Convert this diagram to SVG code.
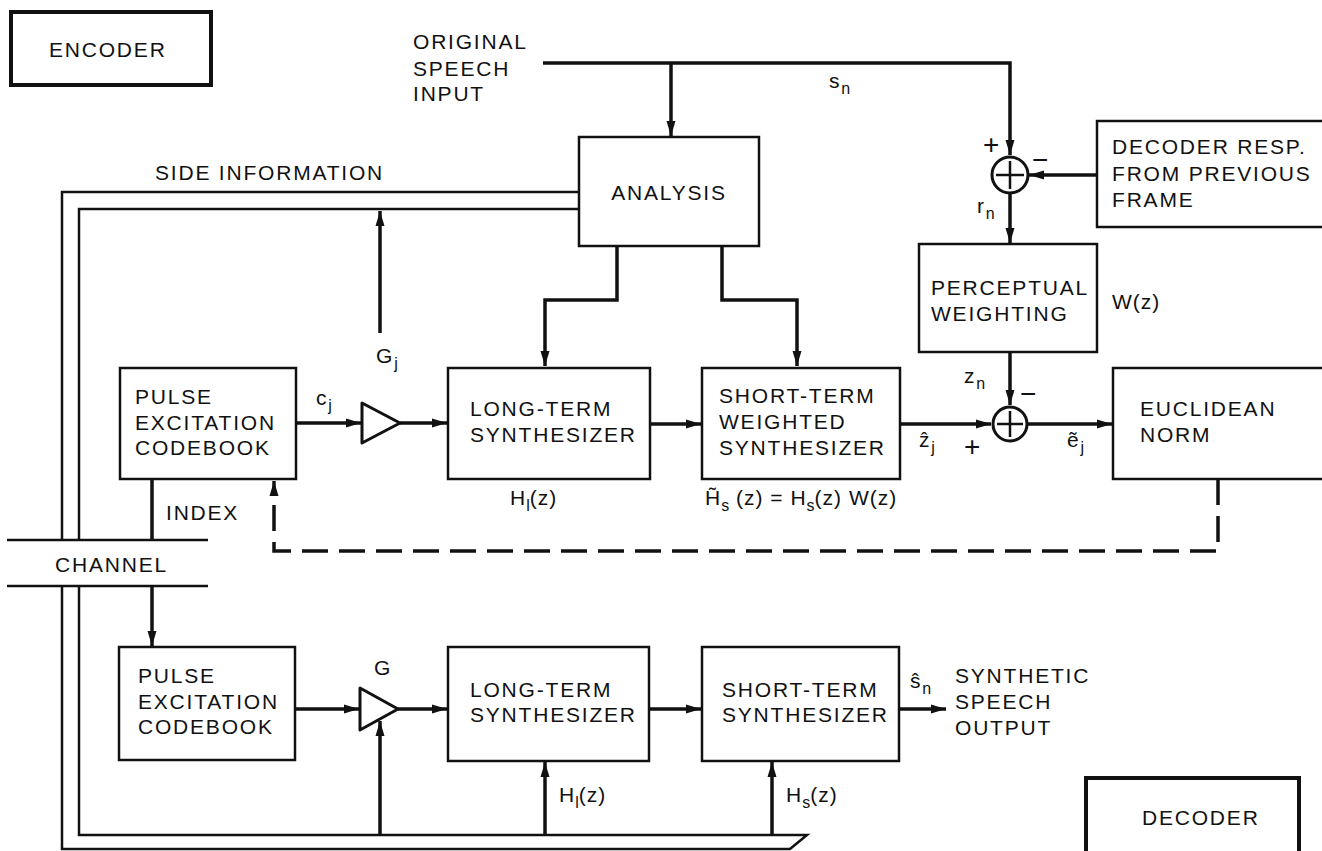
<svg xmlns="http://www.w3.org/2000/svg" width="1322" height="851" viewBox="0 0 1322 851">
<defs>
<marker id="ah" markerUnits="userSpaceOnUse" markerWidth="16" markerHeight="10" refX="15" refY="5" orient="auto">
<path d="M0,0.5 L15,5 L0,9.5 z" fill="#111"/>
</marker>
<style>
text{font-family:"Liberation Sans",Arial,sans-serif;font-size:21px;letter-spacing:1.8px;fill:#111}
.sub{font-size:16px;letter-spacing:0}
.sign{font-size:28px;letter-spacing:0}
.box{fill:#fff;stroke:#111;stroke-width:2.5}
.tbox{fill:#fff;stroke:#111;stroke-width:4}
.w{fill:none;stroke:#111;stroke-width:3.5}
.t{fill:none;stroke:#111;stroke-width:2.5}
.d{fill:none;stroke:#111;stroke-width:3.5;stroke-dasharray:26 11}
.amp{fill:#fff;stroke:#111;stroke-width:3;stroke-linejoin:round}
.sum{fill:#fff;stroke:#111;stroke-width:3}
</style>
</defs>
<rect width="1322" height="851" fill="#fff"/>

<g id="connectors">
<!-- speech input -->
<path class="w" d="M543,63 H1010 V155" marker-end="url(#ah)"/>
<path class="w" d="M671,63 V136" marker-end="url(#ah)"/>
<!-- analysis to synthesizers -->
<path class="w" d="M617,246 V300 H545 V366" marker-end="url(#ah)"/>
<path class="w" d="M722,246 V300 H797 V366" marker-end="url(#ah)"/>
<!-- side information bus -->
<path class="t" d="M579,192 H62 V540 M62,586 V849 H790 L807,835 H79 V586 M79,540 V209 H579"/>
<path class="w" d="M380,333 V211" marker-end="url(#ah)"/>
<!-- channel -->
<path class="t" d="M7,540 H208 M7,586 H208"/>
<path class="w" d="M152,479 V540"/>
<path class="w" d="M152,586 V646" marker-end="url(#ah)"/>
<!-- encoder chain -->
<path class="w" d="M296,423 H361" marker-end="url(#ah)"/>
<path class="w" d="M400,423 H447" marker-end="url(#ah)"/>
<path class="w" d="M650,424 H701" marker-end="url(#ah)"/>
<path class="w" d="M900,424 H991" marker-end="url(#ah)"/>
<path class="w" d="M1028,424 H1112" marker-end="url(#ah)"/>
<!-- decoder resp -> sum1, sum1 -> perceptual -->
<path class="w" d="M1097,175 H1029" marker-end="url(#ah)"/>
<path class="w" d="M1010,194 V243" marker-end="url(#ah)"/>
<path class="w" d="M1010,352 V405" marker-end="url(#ah)"/>
<!-- error feedback -->
<path class="d" d="M1218,479 V551 H274 V481" marker-end="url(#ah)"/>
<!-- decoder chain -->
<path class="w" d="M295,709 H359" marker-end="url(#ah)"/>
<path class="w" d="M398,709 H447" marker-end="url(#ah)"/>
<path class="w" d="M649,709 H701" marker-end="url(#ah)"/>
<path class="w" d="M899,709 H946" marker-end="url(#ah)"/>
<path class="w" d="M380,835 V721" marker-end="url(#ah)"/>
<path class="w" d="M545,835 V762" marker-end="url(#ah)"/>
<path class="w" d="M772,835 V762" marker-end="url(#ah)"/>
</g>

<g id="encoder-label">
<rect class="tbox" x="11" y="12" width="200" height="73"/>
<text x="49" y="57">ENCODER</text>
</g>

<g id="speech-input">
<text x="413" y="49">ORIGINAL</text>
<text x="413" y="76">SPEECH</text>
<text x="413" y="101">INPUT</text>
<text x="829" y="88">s<tspan class="sub" dy="6">n</tspan></text>
</g>

<g id="side-info-label">
<text x="155" y="180">SIDE INFORMATION</text>
<text x="376" y="363">G<tspan class="sub" dy="6">j</tspan></text>
</g>

<g id="analysis">
<rect class="box" x="579" y="137" width="180" height="109"/>
<text x="669" y="200" text-anchor="middle">ANALYSIS</text>
</g>

<g id="sum1">
<circle class="sum" cx="1010" cy="175" r="18"/>
<path class="t" d="M996,175 H1024 M1010,161 V189"/>
<text class="sign" x="983" y="154">+</text>
<text class="sign" x="1032" y="169">−</text>
<text x="977" y="213">r<tspan class="sub" dy="6">n</tspan></text>
</g>

<g id="decoder-resp">
<rect class="box" x="1097" y="121" width="230" height="106"/>
<text x="1112" y="154">DECODER RESP.</text>
<text x="1112" y="181">FROM PREVIOUS</text>
<text x="1112" y="207">FRAME</text>
</g>

<g id="perceptual">
<rect class="box" x="919" y="244" width="178" height="108"/>
<text x="931" y="295">PERCEPTUAL</text>
<text x="931" y="321">WEIGHTING</text>
<text x="1112" y="309" style="letter-spacing:1px">W(z)</text>
</g>

<g id="enc-codebook">
<rect class="box" x="120" y="368" width="176" height="111"/>
<text x="135" y="404">PULSE</text>
<text x="135" y="430">EXCITATION</text>
<text x="135" y="455">CODEBOOK</text>
<text x="316" y="405">c<tspan class="sub" dy="6">j</tspan></text>
<text x="166" y="520">INDEX</text>
</g>

<g id="enc-gain">
<polygon class="amp" points="362,403 400,423 362,443"/>
</g>

<g id="enc-long">
<rect class="box" x="448" y="368" width="202" height="111"/>
<text x="470" y="416">LONG-TERM</text>
<text x="470" y="442">SYNTHESIZER</text>
<text x="510" y="505" style="letter-spacing:1px">H<tspan class="sub" dy="6">l</tspan><tspan dy="-6">(z)</tspan></text>
</g>

<g id="enc-short">
<rect class="box" x="702" y="368" width="198" height="111"/>
<text x="719" y="403">SHORT-TERM</text>
<text x="719" y="429">WEIGHTED</text>
<text x="719" y="455">SYNTHESIZER</text>
<text x="705" y="505" style="letter-spacing:1px">H̃<tspan class="sub" dy="6">s</tspan><tspan dy="-6"> (z) = H</tspan><tspan class="sub" dy="6">s</tspan><tspan dy="-6">(z)  W(z)</tspan></text>
</g>

<g id="sum2">
<circle class="sum" cx="1010" cy="424" r="17"/>
<path class="t" d="M997,424 H1023 M1010,411 V437"/>
<text x="964" y="383">z<tspan class="sub" dy="6">n</tspan></text>
<text class="sign" x="1020" y="403">−</text>
<text class="sign" x="964" y="456">+</text>
<text x="919" y="447">ẑ<tspan class="sub" dy="6">j</tspan></text>
<text x="1067" y="447">ẽ<tspan class="sub" dy="6">j</tspan></text>
</g>

<g id="euclidean">
<rect class="box" x="1113" y="368" width="214" height="111"/>
<text x="1140" y="416">EUCLIDEAN</text>
<text x="1140" y="442">NORM</text>
</g>

<g id="channel-label">
<text x="55" y="572">CHANNEL</text>
</g>

<g id="dec-codebook">
<rect class="box" x="119" y="647" width="176" height="113"/>
<text x="138" y="683">PULSE</text>
<text x="138" y="709">EXCITATION</text>
<text x="138" y="734">CODEBOOK</text>
</g>

<g id="dec-gain">
<polygon class="amp" points="360,688 398,709 360,730"/>
<text x="374" y="675">G</text>
</g>

<g id="dec-long">
<rect class="box" x="448" y="647" width="201" height="114"/>
<text x="470" y="697">LONG-TERM</text>
<text x="470" y="722">SYNTHESIZER</text>
<text x="559" y="802" style="letter-spacing:1px">H<tspan class="sub" dy="6">l</tspan><tspan dy="-6">(z)</tspan></text>
</g>

<g id="dec-short">
<rect class="box" x="702" y="647" width="197" height="114"/>
<text x="722" y="697">SHORT-TERM</text>
<text x="722" y="722">SYNTHESIZER</text>
<text x="786" y="802" style="letter-spacing:1px">H<tspan class="sub" dy="6">s</tspan><tspan dy="-6">(z)</tspan></text>
</g>

<g id="output">
<text x="910" y="688">ŝ<tspan class="sub" dy="6">n</tspan></text>
<text x="955" y="683">SYNTHETIC</text>
<text x="955" y="709">SPEECH</text>
<text x="955" y="735">OUTPUT</text>
</g>

<g id="decoder-label">
<rect class="tbox" x="1086" y="778" width="213" height="80"/>
<text x="1142" y="825">DECODER</text>
</g>
</svg>
